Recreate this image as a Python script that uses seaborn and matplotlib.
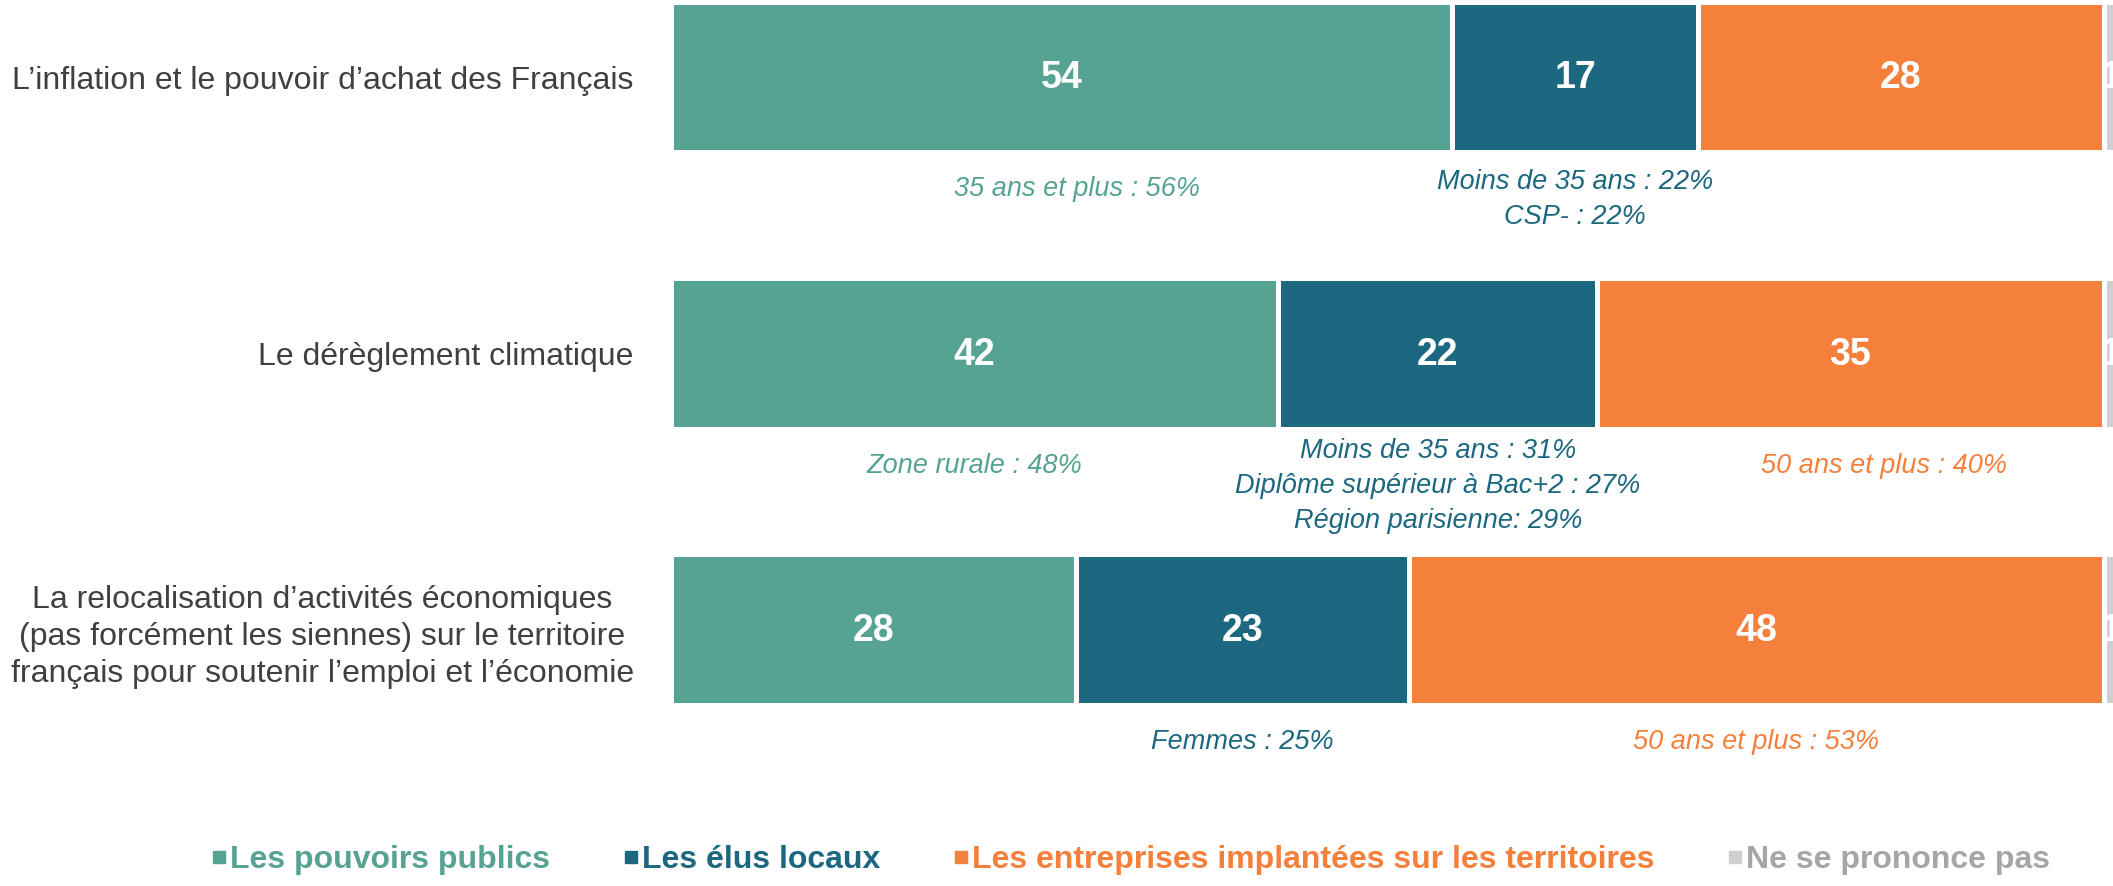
import matplotlib
matplotlib.use('Agg')
import matplotlib.pyplot as plt
from matplotlib.lines import Line2D
import pandas as pd
import seaborn as sns

# Données
categories = [
    'L’inflation et le pouvoir d’achat des Français',
    'Le dérèglement climatique',
    'La relocalisation d’activités économiques\n(pas forcément les siennes) sur le territoire\nfrançais pour soutenir l’emploi et l’économie',
]
series = ['Les pouvoirs publics', 'Les élus locaux',
          'Les entreprises implantées sur les territoires', 'Ne se prononce pas']
pouvoirs_publics = [54, 42, 28]
elus_locaux = [17, 22, 23]
entreprises = [28, 35, 48]
nsp = [1, 1, 1]

# Sur-représentations (catégorie, série, texte)
notes = [
    (0, 0, '35 ans et plus : 56%'),
    (0, 1, 'Moins de 35 ans : 22%\nCSP- : 22%'),
    (1, 0, 'Zone rurale : 48%'),
    (1, 1, 'Moins de 35 ans : 31%\nDiplôme supérieur à Bac+2 : 27%\nRégion parisienne: 29%'),
    (1, 2, '50 ans et plus : 40%'),
    (2, 1, 'Femmes : 25%'),
    (2, 2, '50 ans et plus : 53%'),
]

colors = ['#57A393', '#1C6880', '#F4803C', '#D0CECE']
legend_text_colors = ['#57A393', '#1C6880', '#F4803C', '#A6A6A6']
note_nudge = {(0, 0): 1.1, (1, 2): 2.3}

values = [pouvoirs_publics, elus_locaux, entreprises, nsp]

# Tableau long avec cumuls (barres empilées)
rows = []
for i, cat in enumerate(categories):
    cum = 0
    for s, name in enumerate(series):
        left = cum
        cum += values[s][i]
        rows.append({'category': cat, 'series': name, 'value': values[s][i],
                     'left': left, 'cum': cum})
df = pd.DataFrame(rows)

sns.set_style('white')
plt.rcParams['font.family'] = ['Liberation Sans', 'DejaVu Sans']

W, H = 2113, 886
fig = plt.figure(figsize=(W / 100, H / 100), dpi=100)
x0 = 670.5
ax = fig.add_axes([x0 / W, 0, 1 - x0 / W, 1])

bar_h = 0.546
for s in reversed(range(len(series))):
    sns.barplot(data=df[df['series'] == series[s]], x='cum', y='category',
                order=categories, color=colors[s], saturation=1, width=bar_h,
                errorbar=None, edgecolor='white', linewidth=3.6, orient='h', ax=ax)

ax.set_xlim(0, 99.65)
ax.set_ylim(2.926, -0.2785)
ax.set_xlabel('')
ax.set_ylabel('')
ax.set_xticks([])
sns.despine(ax=ax, left=True, bottom=True)
ax.tick_params(axis='y', length=0, pad=26.5, labelsize=23, labelcolor='#404040')
for lbl in ax.get_yticklabels():
    lbl.set_multialignment('center')
    lbl.set_linespacing(1.3)

# Valeurs dans les barres
for _, r in df.iterrows():
    i = categories.index(r['category'])
    ax.text(r['left'] + r['value'] / 2, i + 0.005, str(r['value']), ha='center',
            va='center', color='white', fontsize=27, fontweight='bold', clip_on=False)

# Annotations sous les barres
for i, s, txt in notes:
    r = df[(df['category'] == categories[i]) & (df['series'] == series[s])].iloc[0]
    xc = r['left'] + r['value'] / 2 + note_nudge.get((i, s), 0)
    n = txt.count('\n') + 1
    off_px = 37 + (n - 1) * 10
    ax.annotate(txt, xy=(xc, i + bar_h / 2), xytext=(0, -off_px * 0.72),
                textcoords='offset points', ha='center', va='center',
                color=colors[s], fontsize=19.5, fontstyle='italic', linespacing=1.45)

# Légende
handles = [Line2D([], [], marker='s', linestyle='none', color=c, markersize=8)
           for c in colors]
leg = fig.legend(handles, series, loc='center', bbox_to_anchor=(1131 / W, 1 - 860 / H),
                 ncol=4, frameon=False, prop={'weight': 'bold', 'size': 23},
                 handlelength=0.45, handletextpad=0.12, columnspacing=2.3)
for t, c in zip(leg.get_texts(), legend_text_colors):
    t.set_color(c)

fig.savefig('out.png', dpi=100)
